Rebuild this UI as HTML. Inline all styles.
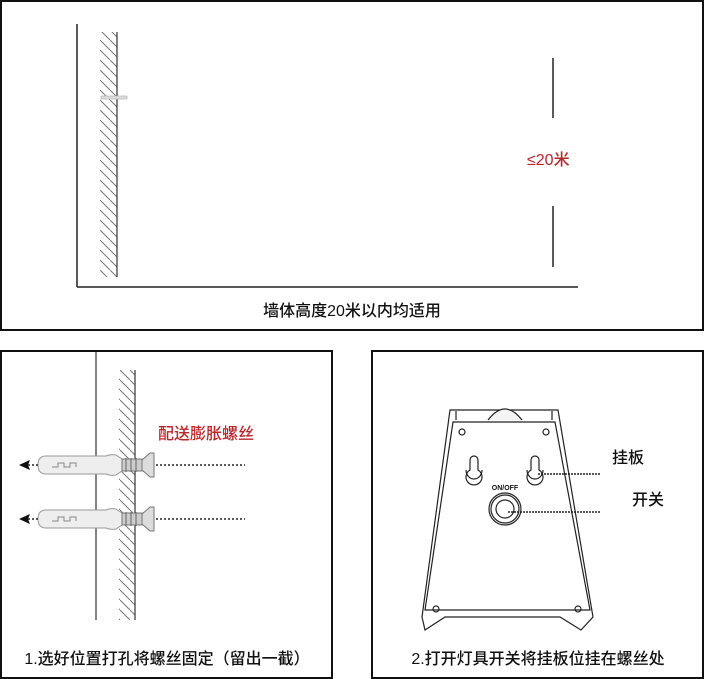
<!DOCTYPE html>
<html><head><meta charset="utf-8"><style>
body{margin:0;background:#fff;}
svg{display:block;font-family:"Liberation Sans","Noto Sans CJK SC",sans-serif;}
</style></head><body>
<svg width="704" height="679" viewBox="0 0 704 679" xmlns="http://www.w3.org/2000/svg">
<defs>
<pattern id="h" width="10" height="10" patternUnits="userSpaceOnUse">
<path d="M-2,-2 L12,12" stroke="#777" stroke-width="1"/>
</pattern>
<g id="anchor">
<path d="M34,-10 Q28,-11 24,-9 L-36,-9 Q-44,-9 -44,0 Q-44,9 -36,9 L24,9 Q28,11 34,10 L40,6 L40,-6 Z" fill="#eee" stroke="#999" stroke-width="1"/>
<path d="M-30,2 h6 v-4 h6 v4 h6 v-4 h6 v4" fill="none" stroke="#888"/>
<rect x="40" y="-6" width="20" height="12" fill="#ccc" stroke="#777"/>
<path d="M44,-7 v14 M49,-7 v14 M54,-7 v14" stroke="#666"/>
<path d="M60,-5 L68,-12 L72,-12 L72,12 L68,12 L60,5 Z" fill="#ddd" stroke="#777"/>
</g>
</defs>
<rect x="1" y="1" width="702" height="329" fill="none" stroke="#111" stroke-width="2"/>
<line x1="77" y1="24" x2="77" y2="287" stroke="#222" stroke-width="1.5"/>
<line x1="77" y1="287" x2="578" y2="287" stroke="#222" stroke-width="1.5"/>
<rect x="100" y="32" width="17" height="245" fill="url(#h)"/>
<line x1="117" y1="32" x2="117" y2="277" stroke="#333" stroke-width="1.2"/>
<rect x="101" y="96" width="26" height="3" fill="#ddd" stroke="#aaa" stroke-width="0.6"/>
<line x1="553" y1="58" x2="553" y2="118" stroke="#222" stroke-width="1.5"/>
<line x1="553" y1="206" x2="553" y2="267" stroke="#222" stroke-width="1.5"/>
<text x="527" y="165" font-size="16" font-weight="500" fill="#b8262a">≤20米</text>
<text x="352" y="316" font-size="16" font-weight="500" fill="#111" text-anchor="middle">墙体高度20米以内均适用</text>

<rect x="1" y="351" width="331" height="327" fill="none" stroke="#111" stroke-width="2"/>
<line x1="96" y1="352" x2="96" y2="620" stroke="#333" stroke-width="1.2"/>
<rect x="119" y="370" width="16" height="250" fill="url(#h)"/>
<line x1="135" y1="370" x2="135" y2="620" stroke="#333" stroke-width="1.2"/>
<text x="158" y="439" font-size="16" font-weight="500" fill="#b8262a">配送膨胀螺丝</text>
<use href="#anchor" transform="translate(82,465)"/>
<use href="#anchor" transform="translate(82,519)"/>
<line x1="156" y1="465" x2="245" y2="465" stroke="#222" stroke-width="1.5" stroke-dasharray="2,2"/>
<line x1="156" y1="519" x2="245" y2="519" stroke="#222" stroke-width="1.5" stroke-dasharray="2,2"/>
<line x1="24" y1="465" x2="38" y2="465" stroke="#222" stroke-width="1.5" stroke-dasharray="2,2"/>
<line x1="24" y1="519" x2="38" y2="519" stroke="#222" stroke-width="1.5" stroke-dasharray="2,2"/>
<path d="M19,465 L30,460 L28,465 L30,470 Z" fill="#111"/>
<path d="M19,519 L30,514 L28,519 L30,524 Z" fill="#111"/>
<text x="167" y="664" font-size="16" font-weight="500" fill="#111" text-anchor="middle">1.选好位置打孔将螺丝固定（留出一截）</text>

<rect x="372" y="351" width="331" height="327" fill="none" stroke="#111" stroke-width="2"/>
<g fill="none" stroke="#222" stroke-width="1.2">
<path d="M450,410 L558,410 L593,617 L581,630 L560,617 L445,617 L425,630 L422,617 Z"/>
<path d="M453,422 L555,422 L590,610 L425,610 Z"/>
<path d="M456,411 L456,420 M552,411 L552,420"/>
<path d="M488,420 Q505,398 522,420" fill="#f4f4f4"/>
<circle cx="462" cy="432" r="3"/><circle cx="546" cy="432" r="3"/>
<circle cx="436" cy="609" r="3"/><circle cx="578" cy="609" r="3"/>
<path d="M470,470 v-10 a4,4 0 0 1 8,0 v10 a8,8 0 1 1 -8,0 Z"/>
<path d="M531,470 v-10 a4,4 0 0 1 8,0 v10 a8,8 0 1 1 -8,0 Z"/>
<path d="M466,470 a8,9 0 0 0 16,0"/><path d="M527,470 a8,9 0 0 0 16,0"/>
<circle cx="505" cy="509" r="16"/><circle cx="505" cy="509" r="14"/><circle cx="505" cy="509" r="9"/>
</g>
<text x="505" y="490" font-size="7" font-weight="bold" text-anchor="middle" fill="#111">ON/OFF</text>
<line x1="538" y1="474" x2="600" y2="474" stroke="#222" stroke-width="1.5" stroke-dasharray="2,1"/>
<line x1="508" y1="512" x2="600" y2="512" stroke="#222" stroke-width="1.5" stroke-dasharray="2,1"/>
<text x="612" y="463" font-size="16" font-weight="500" fill="#111">挂板</text>
<text x="632" y="505" font-size="16" font-weight="500" fill="#111">开关</text>
<text x="538" y="664" font-size="16" font-weight="500" fill="#111" text-anchor="middle">2.打开灯具开关将挂板位挂在螺丝处</text>
</svg>
</body></html>
